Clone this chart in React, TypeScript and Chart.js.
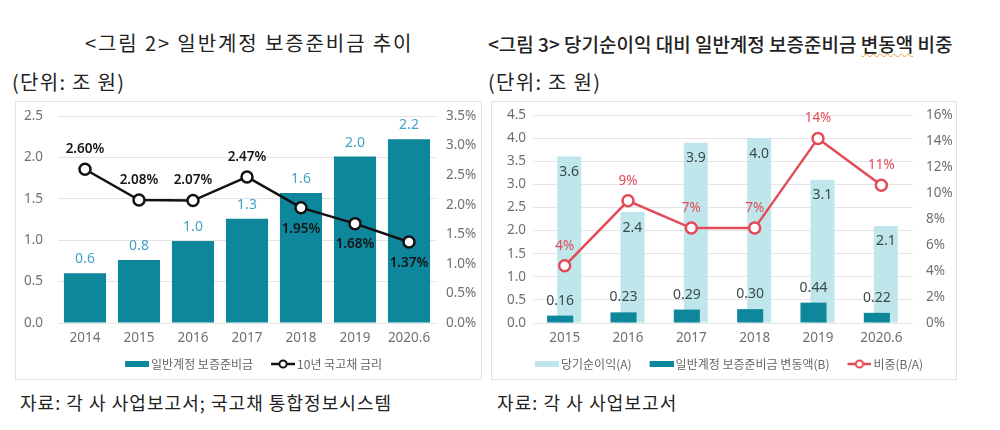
import React, { useEffect, useRef } from 'react';
import { Chart, registerables } from 'chart.js';
Chart.register(...registerables);

// ---------- data ----------
const years1 = ['2014', '2015', '2016', '2017', '2018', '2019', '2020.6'];
const reserve1 = [0.6, 0.76, 0.99, 1.26, 1.57, 2.01, 2.22];
const bondRate = [2.6, 2.08, 2.07, 2.47, 1.95, 1.68, 1.37];

const years2 = ['2015', '2016', '2017', '2018', '2019', '2020.6'];
const netIncome = [3.6, 2.4, 3.9, 4.0, 3.1, 2.1];
const reserveChange = [0.16, 0.23, 0.29, 0.3, 0.44, 0.22];
const ratio = [4.4, 9.4, 7.3, 7.3, 14.2, 10.6];

const legend1 = ['일반계정 보증준비금', '10년 국고채 금리'];
const legend2 = ['당기순이익(A)', '일반계정 보증준비금 변동액(B)', '비중(B/A)'];

const FONT = "'Noto Sans', 'Noto Sans CJK KR', sans-serif";
const KFONT = "'Noto Sans CJK KR', 'Noto Sans', sans-serif";
const TEAL = '#0e869b';
const LIGHT = '#bfe6eb';
const RED = '#e24b57';
const TICK = '#707070';
const GRID = '#e4e4e4';

// legend marker images: visible marker occupies the right 24px, left part transparent
const MARK_W = 24;
const PSW = 28; // pointStyleWidth
const IMG_W = PSW + 8;

function rectImg(color: string, h: number) {
  const c = document.createElement('canvas');
  c.width = IMG_W; c.height = h;
  const ctx = c.getContext('2d')!;
  ctx.fillStyle = color;
  ctx.fillRect(IMG_W - MARK_W, 0, MARK_W, h);
  return c;
}
function lineImg(color: string) {
  const c = document.createElement('canvas');
  c.width = IMG_W; c.height = 12;
  const ctx = c.getContext('2d')!;
  const x0 = IMG_W - MARK_W;
  ctx.strokeStyle = color;
  ctx.lineWidth = 2.5;
  ctx.beginPath(); ctx.moveTo(x0, 6); ctx.lineTo(IMG_W, 6); ctx.stroke();
  ctx.beginPath(); ctx.arc(x0 + MARK_W / 2, 6, 3.6, 0, Math.PI * 2);
  ctx.fillStyle = '#fff'; ctx.fill(); ctx.lineWidth = 2; ctx.stroke();
  return c;
}

type LabelSpec = {
  ds: number;
  text: (v: number, i: number) => string;
  color: string;
  font: string;
  dy: (i: number) => number;
};

function labelPlugin(specs: LabelSpec[]) {
  return {
    id: 'valueLabels',
    afterDatasetsDraw(chart: any) {
      const ctx = chart.ctx;
      ctx.save();
      ctx.textAlign = 'center';
      ctx.textBaseline = 'middle';
      specs.forEach((s) => {
        const meta = chart.getDatasetMeta(s.ds);
        const data = chart.data.datasets[s.ds].data as number[];
        meta.data.forEach((el: any, i: number) => {
          ctx.fillStyle = s.color;
          ctx.font = s.font;
          ctx.fillText(s.text(data[i], i), el.x, el.y + s.dy(i));
        });
      });
      ctx.restore();
    },
  };
}

function useChart(ref: React.RefObject<HTMLCanvasElement | null>, make: () => any) {
  useEffect(() => {
    if (!ref.current) return;
    const chart = new Chart(ref.current, make());
    return () => chart.destroy();
  }, []);
}

const vFit = (w: number) => (s: any) => { s.width = w; s.paddingTop = 8; s.paddingBottom = 8; };

function legendOpts(texts: string[], imgs: HTMLCanvasElement[]) {
  return {
    position: 'bottom',
    labels: {
      usePointStyle: true, pointStyleWidth: PSW, boxHeight: 6, padding: 10,
      color: '#666', font: { family: KFONT, size: 12 },
      generateLabels: () => texts.map((t, i) => ({
        text: t, pointStyle: imgs[i], fillStyle: 'transparent', strokeStyle: 'transparent',
        lineWidth: 0, hidden: false, datasetIndex: i, fontColor: '#666',
      })),
    },
  };
}

function LeftChart() {
  const ref = useRef<HTMLCanvasElement>(null);
  useChart(ref, () => {
    const imgs = [rectImg(TEAL, 6), lineImg('#111')];
    return {
      type: 'bar',
      data: {
        labels: years1,
        datasets: [
          {
            type: 'bar', label: legend1[0], data: reserve1, backgroundColor: TEAL,
            yAxisID: 'y', order: 1, barPercentage: 0.78, categoryPercentage: 1,
          },
          {
            type: 'line', label: legend1[1], data: bondRate, yAxisID: 'y1', order: 0,
            borderColor: '#111', borderWidth: 2.5, pointRadius: 5.5, pointBackgroundColor: '#fff',
            pointBorderColor: '#111', pointBorderWidth: 2.5, tension: 0,
          },
        ],
      },
      options: {
        responsive: true, maintainAspectRatio: false, animation: false,
        layout: { padding: { top: 14, bottom: 1, left: 0, right: 0 } },
        plugins: {
          tooltip: { enabled: false },
          legend: legendOpts(legend1, imgs),
        },
        scales: {
          x: {
            grid: { display: false, drawTicks: false }, border: { display: false },
            ticks: { color: TICK, font: { family: FONT, size: 13.5 }, padding: 7 },
            afterFit: (s: any) => { s.height = 25; },
          },
          y: {
            min: 0, max: 2.5,
            grid: { color: GRID, drawTicks: false }, border: { display: false },
            ticks: { stepSize: 0.5, color: TICK, font: { family: FONT, size: 13.5 }, padding: 15,
              callback: (v: any) => Number(v).toFixed(1) },
            afterFit: vFit(42),
          },
          y1: {
            position: 'right', min: 0, max: 3.5,
            grid: { display: false, drawTicks: false }, border: { display: false },
            ticks: { stepSize: 0.5, color: TICK, font: { family: FONT, size: 13.5 }, padding: 10,
              callback: (v: any) => Number(v).toFixed(1) + '%' },
            afterFit: vFit(47),
          },
        },
      },
      plugins: [labelPlugin([
        { ds: 0, text: (v) => v.toFixed(1), color: '#3fa2c4', font: `14px ${FONT}`, dy: () => -14 },
        { ds: 1, text: (v) => v.toFixed(2) + '%', color: '#151515', font: `600 13.5px ${FONT}`,
          dy: (i) => (i < 4 ? -20 : 21) },
      ])],
    };
  });
  return <canvas ref={ref} />;
}

function RightChart() {
  const ref = useRef<HTMLCanvasElement>(null);
  useChart(ref, () => {
    const imgs = [rectImg(LIGHT, 6), rectImg(TEAL, 6), lineImg(RED)];
    return {
      type: 'bar',
      data: {
        labels: years2,
        datasets: [
          {
            type: 'bar', label: legend2[0], data: netIncome, backgroundColor: LIGHT,
            yAxisID: 'y', order: 2, barPercentage: 2.67, categoryPercentage: 0.284,
          },
          {
            type: 'bar', label: legend2[1], data: reserveChange, backgroundColor: TEAL,
            yAxisID: 'y', order: 1, barPercentage: 2.9, categoryPercentage: 0.284,
          },
          {
            type: 'line', label: legend2[2], data: ratio, yAxisID: 'y1', order: 0,
            borderColor: RED, borderWidth: 2.5, pointRadius: 5.5, pointBackgroundColor: '#fff',
            pointBorderColor: RED, pointBorderWidth: 2.5, tension: 0,
          },
        ],
      },
      options: {
        responsive: true, maintainAspectRatio: false, animation: false,
        layout: { padding: { top: 13, bottom: 1, left: 0, right: 0 } },
        plugins: {
          tooltip: { enabled: false },
          legend: legendOpts(legend2, imgs),
        },
        scales: {
          x: {
            grid: { display: false, drawTicks: false }, border: { display: false },
            ticks: { color: TICK, font: { family: FONT, size: 13.5 }, padding: 7 },
            afterFit: (s: any) => { s.height = 25; },
          },
          y: {
            min: 0, max: 4.5,
            grid: { color: GRID, drawTicks: false }, border: { display: false },
            ticks: { stepSize: 0.5, color: TICK, font: { family: FONT, size: 13.5 }, padding: 7,
              callback: (v: any) => Number(v).toFixed(1) },
            afterFit: vFit(41),
          },
          y1: {
            position: 'right', min: 0, max: 16,
            grid: { display: false, drawTicks: false }, border: { display: false },
            ticks: { stepSize: 2, color: TICK, font: { family: FONT, size: 13.5 }, padding: 13,
              callback: (v: any) => v + '%' },
            afterFit: vFit(45),
          },
        },
      },
      plugins: [labelPlugin([
        { ds: 0, text: (v) => v.toFixed(1), color: '#3c4a4c', font: `14px ${FONT}`, dy: () => 15.5 },
        { ds: 1, text: (v) => v.toFixed(2), color: '#3c4a4c', font: `14px ${FONT}`, dy: () => -15 },
        { ds: 2, text: (v) => Math.round(v) + '%', color: RED, font: `13.5px ${FONT}`, dy: () => -20 },
      ])],
    };
  });
  return <canvas ref={ref} />;
}

const txt = (left: number, cy: number, size: number, extra: React.CSSProperties = {}): React.CSSProperties => ({
  position: 'absolute', left, top: cy - size / 2, fontSize: size, lineHeight: 1, whiteSpace: 'nowrap',
  color: '#222', fontFamily: KFONT, ...extra,
});

export default function App() {
  return (
    <div style={{ position: 'absolute', left: 0, top: 0, width: 1000, height: 430, background: '#fff', overflow: 'hidden' }}>
      <div style={txt(85, 43, 20, { letterSpacing: 1.9 })}>&lt;그림 2&gt; 일반계정 보증준비금 추이</div>
      <div style={txt(488, 43, 19, { fontWeight: 500 })}>
        &lt;그림 3&gt; 당기순이익 대비 일반계정 보증준비금{' '}
        <span style={{ textDecoration: 'underline wavy #e8a040', textDecorationThickness: 1 }}>변동액</span> 비중
      </div>
      <div style={txt(12, 82, 20, { letterSpacing: 1.3 })}>(단위: 조 원)</div>
      <div style={txt(488, 82, 20, { letterSpacing: 1.3 })}>(단위: 조 원)</div>

      <div style={{ position: 'absolute', left: 15, top: 101, width: 467, height: 279, border: '1px solid #e2e2e2', boxSizing: 'border-box' }}>
        <div style={{ position: 'absolute', left: 0, top: 0, width: 467, height: 279 }}>
          <LeftChart />
        </div>
      </div>
      <div style={{ position: 'absolute', left: 491, top: 101, width: 466, height: 279, border: '1px solid #e2e2e2', boxSizing: 'border-box' }}>
        <div style={{ position: 'absolute', left: 0, top: 0, width: 466, height: 279 }}>
          <RightChart />
        </div>
      </div>

      <div style={txt(20, 401.5, 18, { letterSpacing: 1.05 })}>자료: 각 사 사업보고서; 국고채 통합정보시스템</div>
      <div style={txt(497, 401.5, 18, { letterSpacing: 1.1 })}>자료: 각 사 사업보고서</div>
    </div>
  );
}
